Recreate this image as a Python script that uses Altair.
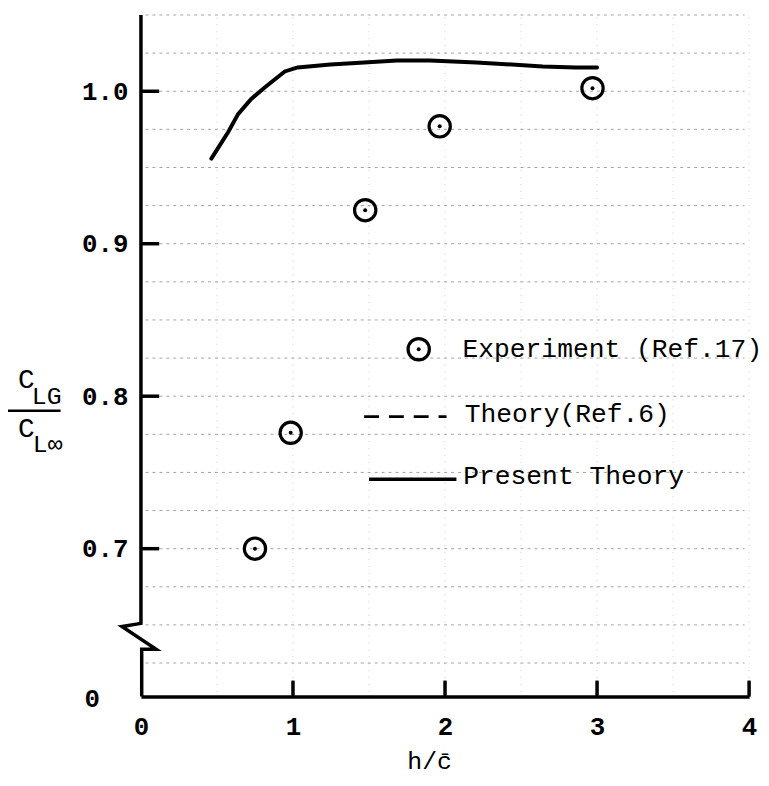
import altair as alt
import pandas as pd

# ---- data ----
exp_h = [0.75, 0.985, 1.475, 1.965, 2.97]
exp_cl = [0.700, 0.776, 0.922, 0.977, 1.002]

present_h = [0.463, 0.574, 0.639, 0.724, 0.816, 0.946, 1.031, 1.246, 1.468, 1.683, 1.90, 2.206, 2.643, 2.858, 3.0]
present_cl = [0.9558, 0.9733, 0.985, 0.9948, 1.0026, 1.013, 1.0156, 1.0176, 1.0189, 1.0202, 1.0202, 1.0189, 1.0163, 1.0156, 1.0156]

x_ticks = [0, 1, 2, 3, 4]
y_ticks = [0.7, 0.8, 0.9, 1.0]
y_zero_label = "0"
legend_labels = ["Experiment (Ref.17)", "Theory(Ref.6)", "Present Theory"]

FONT = "Liberation Mono"
Y_MIN, Y_MAX = 0.603, 1.05

xs = alt.Scale(domain=[0, 4], nice=False, zero=False)
ys = alt.Scale(domain=[Y_MIN, Y_MAX], nice=False, zero=False)

x_axis = alt.Axis(
    values=x_ticks, labelFont=FONT, labelFontSize=26, labelFontWeight="bold", labelColor="black",
    labelPadding=17, ticks=False, domainColor="black", domainWidth=3.5, grid=False, title=None,
    labelFlush=False, labelOverlap=False, format="d")
y_axis = alt.Axis(
    values=y_ticks, format=".1f",
    labelFont=FONT, labelFontSize=26, labelFontWeight="bold", labelColor="black", labelPadding=13,
    ticks=False, domain=False, grid=False, title=None, labelFlush=False, labelOverlap=False)


def X(f="x"):
    return alt.X(f"{f}:Q", scale=xs, axis=x_axis)


def Y(f="y"):
    return alt.Y(f"{f}:Q", scale=ys, axis=y_axis)


# graph-paper background
grid_h = pd.DataFrame({"y": [0.625 + 0.025 * i for i in range(18)], "x": 0.03, "x2": 3.97})
grid_v = pd.DataFrame({"x": [0.5 * i for i in range(1, 9)], "y": 0.606, "y2": Y_MAX})

gh = alt.Chart(grid_h).mark_rule(color="#666", strokeDash=[3, 4], strokeWidth=1, opacity=0.6).encode(
    x=X(), x2="x2:Q", y=Y())
gv = alt.Chart(grid_v).mark_rule(color="#999", strokeDash=[1, 6], strokeWidth=1, opacity=0.5).encode(
    x=X(), y=Y(), y2="y2:Q")

# left axis with break symbol
axis_path = pd.DataFrame({
    "i": [0, 1, 2, 3, 4, 5],
    "x": [0, 0, -0.125, 0.10, 0.005, 0.005],
    "y": [Y_MAX, 0.651, 0.649, 0.634, 0.634, Y_MIN],
})
left_axis = alt.Chart(axis_path).mark_line(color="black", strokeWidth=3.5, strokeJoin="miter").encode(
    x=X(), y=Y(), order="i:Q")

# "0" label at the foot of the broken axis
zero_df = pd.DataFrame({"y": [Y_MIN], "t": [y_zero_label]})
zero_lbl = alt.Chart(zero_df).mark_text(font=FONT, fontSize=26, fontWeight="bold", color="black",
                                        align="left", baseline="middle", dy=3).encode(
    x=alt.value(-57), y=Y(), text="t:N")

# inward ticks
yt = pd.DataFrame({"y": y_ticks, "x": 0.0, "x2": 0.12})
ytick = alt.Chart(yt).mark_rule(color="black", strokeWidth=3.5).encode(x=X(), x2="x2:Q", y=Y())
xt = pd.DataFrame({"x": x_ticks[1:], "y": Y_MIN, "y2": Y_MIN + 0.0105})
xtick = alt.Chart(xt).mark_rule(color="black", strokeWidth=3.5).encode(x=X(), y=Y(), y2="y2:Q")

# present theory curve
pres = pd.DataFrame({"x": present_h, "y": present_cl})
line = alt.Chart(pres).mark_line(color="black", strokeWidth=4, strokeCap="round").encode(x=X(), y=Y())

# experiment points
expd = pd.DataFrame({"x": exp_h, "y": exp_cl})
rings = alt.Chart(expd).mark_point(shape="circle", filled=False, color="black", strokeWidth=3.2,
                                   size=460, opacity=1).encode(x=X(), y=Y())
dots = alt.Chart(expd).mark_circle(color="black", size=16, opacity=1).encode(x=X(), y=Y())

# legend
leg_pt = pd.DataFrame({"x": [1.827], "y": [0.8308]})
leg_ring = alt.Chart(leg_pt).mark_point(shape="circle", filled=False, color="black", strokeWidth=3.2,
                                        size=460, opacity=1).encode(x=X(), y=Y())
leg_dot = alt.Chart(leg_pt).mark_circle(color="black", size=16, opacity=1).encode(x=X(), y=Y())
leg_dash_df = pd.DataFrame({"x": [1.468], "x2": [2.01], "y": [0.7866]})
leg_dash = alt.Chart(leg_dash_df).mark_rule(color="black", strokeWidth=3, strokeDash=[15, 10]).encode(
    x=X(), x2="x2:Q", y=Y())
leg_solid_df = pd.DataFrame({"x": [1.50], "x2": [2.075], "y": [0.7456]})
leg_solid = alt.Chart(leg_solid_df).mark_rule(color="black", strokeWidth=3.5).encode(
    x=X(), x2="x2:Q", y=Y())
leg_txt_df = pd.DataFrame({"x": [2.115, 2.13, 2.12], "y": [0.8308, 0.788, 0.7476], "t": legend_labels})
leg_txt = alt.Chart(leg_txt_df).mark_text(font=FONT, fontSize=26.5, color="black", align="left",
                                          baseline="middle").encode(x=X(), y=Y(), text="t:N")

# axis titles
one = pd.DataFrame({"a": [0]})


def label(txt, x, y, size=26, align="left"):
    return alt.Chart(one).mark_text(font=FONT, fontSize=size, color="black", align=align,
                                    baseline="alphabetic").encode(
        x=alt.value(x), y=alt.value(y), text=alt.value(txt))


c_top = label("C", -124, 376, size=28)
lg = label("LG", -110, 392, size=25)
c_bot = label("C", -124, 425, size=28)
linf = label("L\u221e", -109, 440, size=25)
bar = alt.Chart(one).mark_rule(color="black", strokeWidth=2.5).encode(
    x=alt.value(-134), x2=alt.value(-81), y=alt.value(399))
xtitle = label("h/c\u0304", 291, 760, size=25, align="center")

chart = alt.layer(
    gh, gv, left_axis, ytick, xtick, line, rings, dots, zero_lbl,
    leg_ring, leg_dot, leg_dash, leg_solid, leg_txt,
    c_top, lg, c_bot, linf, bar, xtitle,
).properties(
    width=613, height=687,
    autosize=alt.AutoSizeParams(type="none"),
    padding={"left": 134, "top": 4, "right": 12, "bottom": 79},
    background="white",
).configure_view(strokeWidth=0)

chart.save("out.html", embed_options={"renderer": "svg", "actions": False})
